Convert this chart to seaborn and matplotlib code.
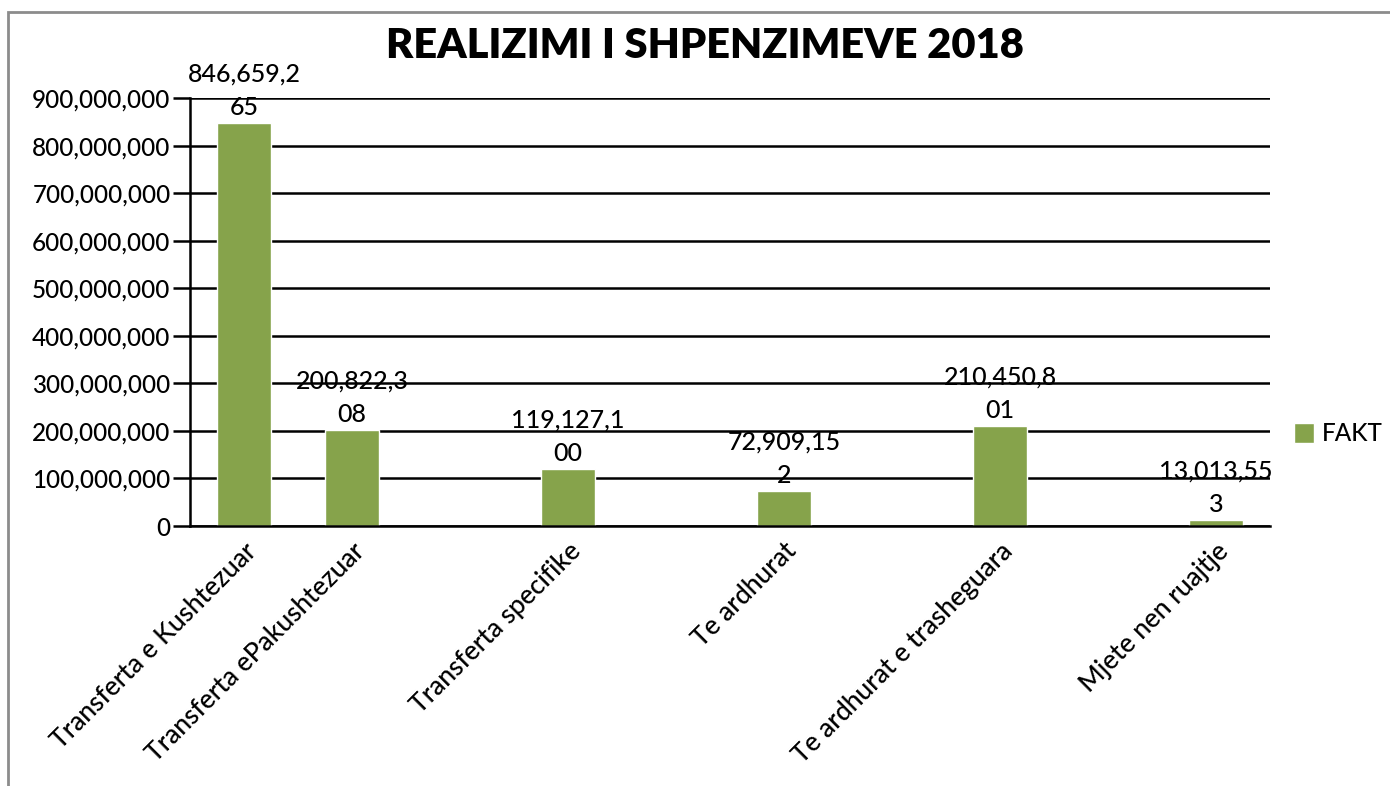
import numpy as np
import pandas as pd
import matplotlib
matplotlib.use("Agg")
import matplotlib.pyplot as plt
from matplotlib.patches import Rectangle
from matplotlib.ticker import FuncFormatter, MultipleLocator
import seaborn as sns

# Data (blank slots are empty categories in the original chart)
categories = ["Transferta e Kushtezuar", "Transferta ePakushtezuar", "gap1",
              "Transferta specifike", "gap2", "Te ardhurat", "gap3",
              "Te ardhurat e trasheguara", "gap4", "Mjete nen ruajtje"]
tick_labels = ["Transferta e Kushtezuar", "Transferta ePakushtezuar", "",
               "Transferta specifike", "", "Te ardhurat", "",
               "Te ardhurat e trasheguara", "", "Mjete nen ruajtje"]
names = ["Transferta e Kushtezuar", "Transferta ePakushtezuar", "Transferta specifike",
         "Te ardhurat", "Te ardhurat e trasheguara", "Mjete nen ruajtje"]
fakt = [846659265, 200822308, 119127100, 72909152, 210450801, 13013553]

df = pd.DataFrame({"kategoria": names, "FAKT": fakt})

sns.set_style("white")
plt.rcParams["font.family"] = ["Lato", "DejaVu Sans"]
plt.rcParams["font.weight"] = "medium"
plt.rcParams["text.color"] = "black"
plt.rcParams["xtick.color"] = "black"
plt.rcParams["ytick.color"] = "black"

fig = plt.figure(figsize=(13.9, 7.86), dpi=100)
ax = fig.add_axes([190 / 1390, 1 - 526 / 786, 1080 / 1390, 428 / 786])

sns.barplot(data=df, x="kategoria", y="FAKT", order=categories, color="#86A34B",
            width=0.5, saturation=1, label="FAKT", ax=ax)

ax.set_ylim(0, 900000000)
ax.set_xlim(-0.5, len(categories) - 0.5)
ax.yaxis.set_major_locator(MultipleLocator(100000000))
ax.yaxis.set_major_formatter(FuncFormatter(lambda v, p: f"{int(v):,}"))
ax.grid(axis="y", color="black", linewidth=1.8)
ax.set_axisbelow(True)

# category labels at centers, tick marks at the slot edges
ax.set_xticks(range(len(categories)))
ax.set_xticklabels(tick_labels, rotation=45, ha="right", va="top",
                   rotation_mode="anchor", fontsize=19)
ax.tick_params(axis="x", which="major", length=0, pad=9)
ax.set_xticks(np.arange(-0.5, len(categories)), minor=True)
ax.tick_params(axis="x", which="minor", length=12, width=1.8, color="black", direction="out")
ax.tick_params(axis="y", length=12, width=1.8, color="black", labelsize=17.5, pad=2, left=True)
ax.set_xlabel("")
ax.set_ylabel("")

for s in ["top", "right"]:
    ax.spines[s].set_visible(False)
for s in ["left", "bottom"]:
    ax.spines[s].set_color("black")
    ax.spines[s].set_linewidth(1.8)

# data labels wrapped like the original (9 characters per line)
for cont in ax.containers:
    labs = []
    for bar in cont:
        h = bar.get_height()
        if np.isnan(h):
            labs.append("")
            continue
        s = f"{int(round(h)):,}"
        labs.append(s[:9] + "\n" + s[9:] if len(s) > 9 else s)
    ax.bar_label(cont, labels=labs, fontsize=18, padding=3, linespacing=1.55)

leg = ax.legend(loc="center left", bbox_to_anchor=(1.022, 0.215), frameon=False,
                fontsize=17.5, handlelength=0.85, handleheight=0.85, handletextpad=0.3,
                borderpad=0, borderaxespad=0)

fig.text(0.507, 0.942, "REALIZIMI I SHPENZIMEVE 2018", ha="center", va="center",
         fontsize=30, fontweight="heavy")

fig.patches.append(Rectangle((8 / 1390, -0.05), 1.2, 1 - 12 / 786 + 0.05,
                             transform=fig.transFigure, fill=False,
                             edgecolor="#8c8c8c", linewidth=2))

fig.savefig("out.png", dpi=100)
